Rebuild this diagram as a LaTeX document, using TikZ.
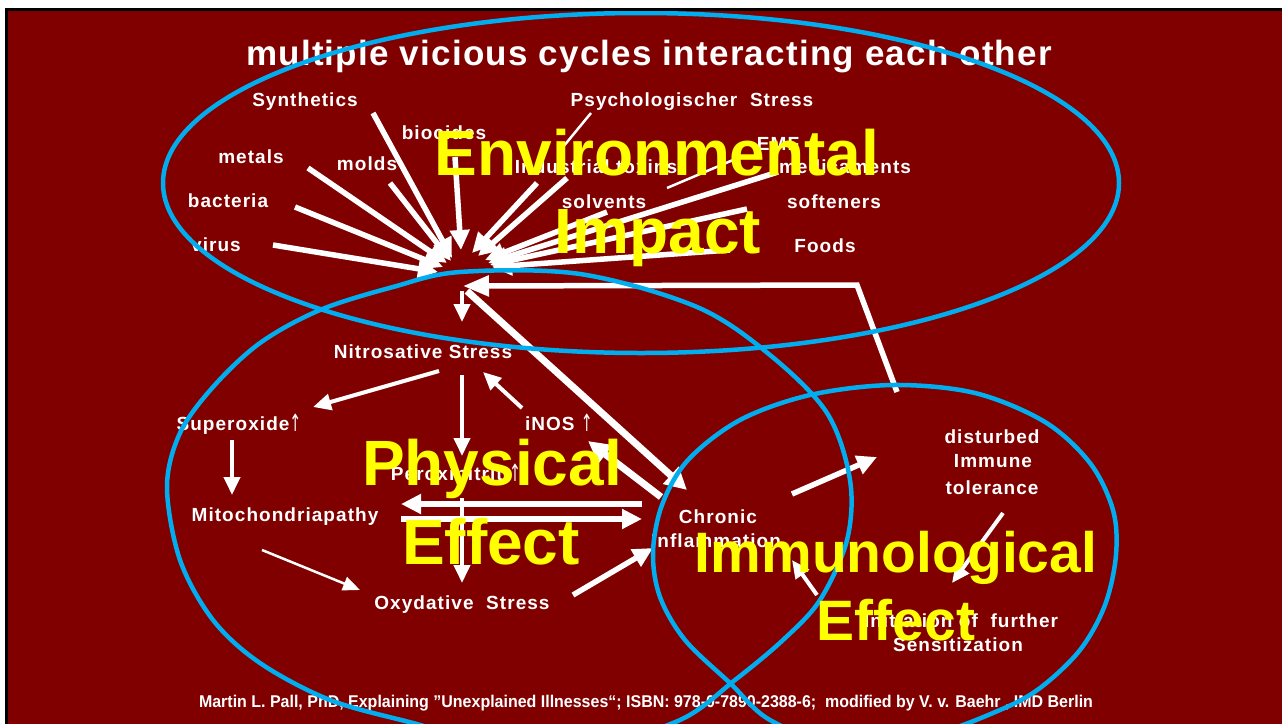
\documentclass[tikz,border=0pt]{standalone}
\usepackage{graphicx}
\usepackage{fontspec}
\setmainfont{Liberation Sans}
\newfontfamily\spacedfont{Liberation Sans}[LetterSpace=5.5]
\newfontfamily\arrowfont{DejaVu Sans}
\usetikzlibrary{arrows.meta}
\definecolor{slidered}{RGB}{128,0,0}
\definecolor{cycleblue}{RGB}{0,174,239}
\definecolor{bigyellow}{RGB}{255,255,0}
\newcommand\uparr{\raisebox{-1pt}{\scalebox{0.75}[1.25]{\arrowfont\mdseries\color{white}↑}}}

\begin{document}
\begin{tikzpicture}[x=1pt,y=-1pt,
  lbl/.style={text=white,font=\spacedfont\bfseries\fontsize{19}{22}\selectfont,inner sep=0pt,anchor=base},
  yel/.style={text=bigyellow,font=\bfseries\fontsize{64}{76}\selectfont,inner sep=0pt,anchor=base},
  fatarrow/.style={white,line width=5.5pt,-{Triangle[length=20pt,width=19pt]}},
  midarrow/.style={white,line width=4pt,-{Triangle[length=18pt,width=16pt]}},
  thinarrow/.style={white,line width=2.5pt,-{Triangle[length=17pt,width=14pt]}},
  loopline/.style={cycleblue,line width=4.5pt}]

\useasboundingbox (0,0) rectangle (1282,723);
\fill[white] (-10,-10) rectangle (1292,733);
\fill[black] (5,8) rectangle (1292,733);
\fill[slidered] (8,11) rectangle (1292,733);

% sources of the environmental impact
\coordinate (synA) at (373,113);  \coordinate (synB) at (452,258);
\coordinate (bioA) at (455,157);  \coordinate (bioB) at (461,250);
\coordinate (metA) at (308,168);  \coordinate (metB) at (447,263);
\coordinate (molA) at (390,183);  \coordinate (molB) at (451,261);
\coordinate (bacA) at (295,207);  \coordinate (bacB) at (443,267);
\coordinate (virA) at (273,245);  \coordinate (virB) at (438,272);
\coordinate (indA) at (537,183);  \coordinate (indB) at (472,253);
\coordinate (psyA) at (567,178);  \coordinate (psyB) at (478,256);
\coordinate (solA) at (607,212);  \coordinate (solB) at (485,260);
\coordinate (medA) at (778,172);  \coordinate (medB) at (488,263);
\coordinate (sofA) at (747,209);  \coordinate (sofB) at (490,265);
\coordinate (fooA) at (730,250);  \coordinate (fooB) at (492,267);

\foreach \s in {syn,bio,met,mol,bac,vir,ind,psy,sol,med,sof,foo}{
\draw[fatarrow] (\s A) -- (\s B);}

\coordinate (psyC) at (591,113); \coordinate (psyD) at (563,147);
\coordinate (emfC) at (733,160); \coordinate (emfD) at (667,188);
\draw[white,line width=2.5pt] (psyC) -- (psyD);
\draw[white,line width=2.5pt] (emfC) -- (emfD);

% feedback from the immune system
\coordinate (backA) at (897,392);
\coordinate (backB) at (857,285);
\coordinate (hub) at (463,286);
\draw[white,line width=5.5pt,-{Triangle[length=26pt,width=20pt]}] (backA) -- (backB) -- (hub);

\coordinate (hubS) at (462,291);
\coordinate (nitN) at (462,322);
\draw[midarrow] (hubS) -- (nitN);
\coordinate (hubE) at (467,291);
\coordinate (chrNW) at (687,490);
\draw[white,line width=7pt,-{Triangle[length=22pt,width=22pt]}] (hubE) -- (chrNW);

% physical effect
\coordinate (chrW) at (661,497);   \coordinate (inoSE) at (588,441);
\coordinate (inoNW) at (522,408);  \coordinate (nitSE) at (483,372);
\coordinate (nitSW) at (439,371);  \coordinate (supE) at (313,407);
\coordinate (nitS) at (462,375);   \coordinate (perN) at (462,456);
\coordinate (perS) at (462,498);   \coordinate (oxyN) at (462,583);
\coordinate (supS) at (232,440);   \coordinate (mitN) at (232,495);
\coordinate (mitSE) at (262,550);  \coordinate (oxyW) at (360,590);
\coordinate (chrA) at (642,504);   \coordinate (mitA) at (401,504);
\coordinate (mitB) at (401,519);   \coordinate (chrB) at (642,519);
\coordinate (oxyE) at (573,595);   \coordinate (chrSW) at (653,548);

\draw[white,line width=7pt,-{Triangle[length=22pt,width=22pt]}] (chrW) -- (inoSE);
\draw[midarrow] (inoNW) -- (nitSE);
\draw[midarrow] (nitSW) -- (supE);
\draw[midarrow] (nitS) -- (perN);
\draw[midarrow] (perS) -- (oxyN);
\draw[midarrow] (supS) -- (mitN);
\draw[thinarrow] (mitSE) -- (oxyW);
\draw[fatarrow] (chrA) -- (mitA);
\draw[fatarrow] (mitB) -- (chrB);
\draw[fatarrow] (oxyE) -- (chrSW);

% immunological effect
\coordinate (chrE) at (792,494);   \coordinate (disW) at (877,457);
\coordinate (disS) at (1003,513);  \coordinate (iniN) at (952,583);
\coordinate (iniW) at (817,595);   \coordinate (chrSE) at (792,560);
\draw[fatarrow] (chrE) -- (disW);
\draw[midarrow] (disS) -- (iniN);
\draw[midarrow] (iniW) -- (chrSE);

\node[lbl,font=\spacedfont\bfseries\fontsize{35}{40}\selectfont\addfontfeatures{LetterSpace=3.5}] (title) at (649,65) {multiple vicious cycles interacting each other};
\node[lbl] (syn) at (305,106) {Synthetics};
\node[lbl] (psy) at (692,106) {Psychologischer\ \ Stress};
\node[lbl] (bio) at (444,139) {biocides};
\node[lbl] (emf) at (778,150) {EMF};
\node[lbl] (met) at (251,163) {metals};
\node[lbl] (mol) at (367,170) {molds};
\node[lbl] (ind) at (596,173) {Industrial toxins};
\node[lbl] (med) at (845,173) {medicaments};
\node[lbl] (bac) at (228,207) {bacteria};
\node[lbl] (sol) at (604,208) {solvents};
\node[lbl] (sof) at (834,208) {softeners};
\node[lbl] (vir) at (216,251) {virus};
\node[lbl] (foo) at (825,252) {Foods};
\node[lbl] (nit) at (423,358) {Nitrosative Stress};
\node[lbl] (sup) at (239,430) {Superoxide\uparr};
\node[lbl] (ino) at (559,430) {iNOS \uparr};
\node[lbl] (per) at (456,480) {Peroxinitrit \uparr};
\node[lbl] (mit) at (285,521) {Mitochondriapathy};
\node[lbl] (oxy) at (462,609) {Oxydative\ \ Stress};
\node[lbl] (chr) at (718,523) {Chronic};
\node[lbl] (chr2) at (716,547) {Inflammation};
\node[lbl] (dis) at (992,443) {disturbed};
\node[lbl] (dis2) at (993,467) {Immune};
\node[lbl] (dis3) at (992,494) {tolerance};
\node[lbl] (ini) at (961,627) {Initiation of\ \ further};
\node[lbl] (ini2) at (958,651) {Sensitization};
\node[lbl,font=\bfseries\fontsize{17}{20}\selectfont,xscale=0.94,transform shape] (src) at (646,707)
  {Martin L. Pall, PhD, Explaining "Unexplained Illnesses“; ISBN: 978-0-7890-2388-6;\ \ modified by V. v. Baehr , IMD Berlin};

% the three cycles
\begin{scope}
\clip (8,11) rectangle (1282,723);
\draw[loopline] (641,183) ellipse [x radius=478pt, y radius=170pt];
\draw[loopline] plot[smooth cycle,tension=0.55] coordinates {(460,272) (580,274) (697,307) (770,355)
  (827,413) (850,480) (847,540) (820,600) (783,640) (735,680) (680,720) (590,745) (480,740)
  (413,723) (330,700) (260,663) (213,620) (180,560) (167,487) (180,433) (213,387) (260,343)
  (320,310) (393,287)};
\draw[loopline] plot[smooth cycle,tension=0.55] coordinates {(893,385) (975,393) (1045,422)
  (1090,463) (1113,510) (1116,555) (1105,605) (1080,650) (1040,688) (1000,710) (930,735)
  (840,745) (770,720) (730,683) (685,640) (660,597) (653,553) (662,505) (688,460) (740,420)
  (810,395)};
\end{scope}

\node[yel] (envA) at (657,175) {Environmental};
\node[yel] (envB) at (658,253) {Impact};
\node[yel] (phyA) at (492,485) {Physical};
\node[yel] (phyB) at (491,564) {Effect};
\node[yel,font=\bfseries\fontsize{57}{68}\selectfont] (immA) at (896,572) {Immunological};
\node[yel,font=\bfseries\fontsize{57}{68}\selectfont] (immB) at (896,640) {Effect};

\end{tikzpicture}
\end{document}
